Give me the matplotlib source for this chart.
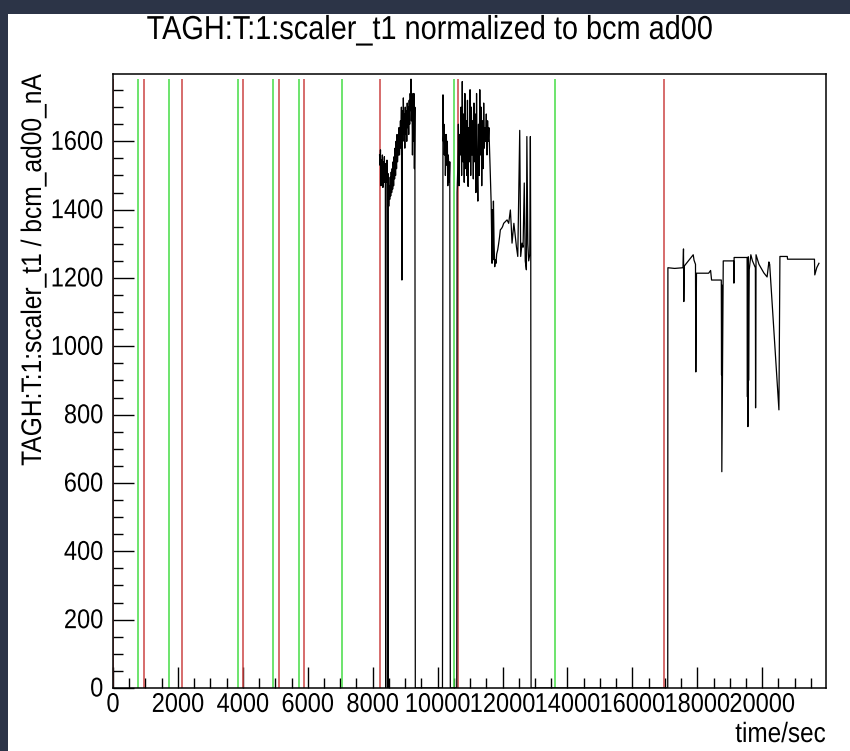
import matplotlib.pyplot as plt
from matplotlib.ticker import MultipleLocator
from matplotlib.patches import Rectangle
from matplotlib import patheffects
from matplotlib.transforms import Affine2D

plt.rcParams["font.family"] = ["Liberation Sans", "DejaVu Sans"]

# scaler rate normalised to beam current
time_s = [
    8212, 8225, 8240, 8255, 8270, 8285, 8300, 8315, 8330, 8345, 8360, 8375, 8390, 8400,
    8410, 8425, 8440, 8455, 8470, 8480, 8495, 8510, 8525, 8540, 8555, 8570, 8585, 8600,
    8615, 8630, 8645, 8660, 8675, 8690, 8705, 8720, 8735, 8750, 8765, 8780, 8795, 8810,
    8825, 8840, 8855, 8870, 8885, 8900, 8915, 8930, 8945, 8960, 8975, 8990, 9005, 9020,
    9035, 9050, 9065, 9080, 9095, 9110, 9125, 9140, 9155, 9170, 9180, 9195, 9210, 9225,
    9240, 9255, 9270, 9285, 9300, 9313,
    10150, 10166, 10180, 10195, 10210, 10225, 10240, 10255, 10270, 10285, 10300, 10315,
    10330, 10345, 10360, 10375, 10392, 10590,
    10600, 10620, 10640, 10660, 10680, 10700, 10720, 10740, 10760, 10780, 10800, 10820,
    10840, 10860, 10880, 10900, 10920, 10940, 10960, 10980, 11000, 11020, 11040, 11060,
    11080, 11100, 11120, 11140, 11160, 11180, 11200, 11220, 11240, 11260, 11280, 11300,
    11320, 11340, 11360, 11380, 11400, 11420, 11440, 11460, 11480, 11500, 11520, 11540,
    11560, 11580, 11600, 11625,
    11650, 11665, 11677, 11690, 11705, 11720, 11740, 11760, 11779, 11800, 11820, 11851,
    11880, 11910, 11933, 11970, 12000, 12036, 12090, 12140, 12190, 12242, 12270, 12293,
    12310, 12350, 12396, 12430, 12470, 12530, 12560, 12600, 12633, 12670, 12700, 12735,
    12750, 12780, 12806, 12840, 12858, 12870, 12880,
    17090, 17095, 17300, 17560, 17575, 17585, 17600, 17875, 17900, 17945, 17955, 17975,
    18350, 18410, 18440, 18740, 18748, 18752, 18756, 18800, 19120, 19128, 19135, 19535,
    19545, 19552, 19560, 19570, 19580, 19600, 19650, 19700, 19790, 19796, 19810, 19900,
    20050, 20150, 20206, 20230, 20515, 20546, 20773, 20780, 21610, 21620, 21680, 21748,
]
rate = [
    1560, 1530, 1575, 1470, 1545, 1500, 1560, 1465, 1540, 1490, 1555, 1480, 1535, 0,
    1520, 1480, 1545, 1500, 0, 1505, 1410, 1470, 1430, 1495, 1440, 1510, 1450, 1520,
    1460, 1540, 1470, 1555, 1490, 1580, 1500, 1600, 1520, 1620, 1540, 1580, 1560, 1640,
    1560, 1600, 1660, 1580, 1700, 1194, 1690, 1600, 1727, 1620, 1680, 1580, 1700, 1620,
    1690, 1600, 1712, 1640, 1700, 1620, 1720, 1650, 1740, 1690, 1782, 1660, 1740, 1560,
    1720, 1600, 1740, 1520, 1700, 0,
    0, 1736, 1600, 1650, 1560, 1620, 1500, 1580, 1620, 1530, 1600, 1470,
    1560, 1520, 1480, 1540, 0, 0,
    1450, 1516, 1650, 1470, 1620, 1560, 1700, 1500, 1775, 1540, 1680, 1480,
    1740, 1520, 1660, 1500, 1720, 1468, 1640, 1540, 1751, 1500, 1700, 1560,
    1660, 1490, 1712, 1540, 1680, 1450, 1740, 1520, 1425, 1650, 1500, 1751,
    1560, 1700, 1470, 1660, 1520, 1712, 1580, 1640, 1600, 1680, 1560, 1660,
    1600, 1640, 1580, 1500,
    1419, 1330, 1243, 1400, 1253, 1425, 1300, 1233, 1253, 1243, 1270, 1282,
    1300, 1321, 1341, 1345, 1350, 1360, 1365, 1370, 1360, 1399, 1350, 1302,
    1320, 1360, 1321, 1290, 1263, 1632, 1263, 1302, 1290, 1478, 1250, 1224,
    1614, 1300, 1250, 1270, 1614, 1260, 0,
    0, 1230, 1228, 1230, 1285, 1131, 1235, 1268, 1252, 1240, 925, 1214,
    1214, 1222, 1194, 1194, 916, 1180, 633, 1250, 1250, 1185, 1260, 1260,
    852, 1250, 765, 1262, 900, 1224, 1268, 1250, 1230, 820, 1268, 1240,
    1215, 1203, 1247, 1240, 814, 1263, 1263, 1255, 1255, 1209, 1230, 1243,
]

# run start (green) and run end (red) markers
run_start = [760, 1727, 3845, 4914, 5725, 7040, 10494, 13608]
run_end = [0, 966, 2117, 4020, 5119, 5880, 8212, 10617, 16960]
marker_top = 1783


class Stretch(patheffects.AbstractPathEffect):
    """draw glyphs taller than they are wide, like the ROOT screenshot"""

    def __init__(self, sy):
        super().__init__()
        self.sy = sy

    def draw_path(self, renderer, gc, tpath, affine, rgbFace=None):
        renderer.draw_path(gc, tpath, Affine2D().scale(1, self.sy) + affine, rgbFace)


tall = [Stretch(1.15)]

fig = plt.figure(figsize=(8.5, 7.51), dpi=100)
fig.patch.set_facecolor("#2c3447")
fig.patches.append(Rectangle((8 / 850, 0), 1, 1 - 14 / 751, transform=fig.transFigure,
                             facecolor="white", edgecolor="none", zorder=-10))

ax = fig.add_axes([113 / 850, 1 - 688 / 751, 712.5 / 850, 614 / 751])
ax.set_zorder(1)
ax.vlines(run_start, 0, marker_top, color="#45dc45", lw=1.1)
ax.vlines(run_end, 0, marker_top, color="#cc4444", lw=1.1)
ax.plot(time_s, rate, color="black", lw=0.9)

ax.set_xlim(0, 21950)
ax.set_ylim(0, 1797)
ax.xaxis.set_major_locator(MultipleLocator(2000))
ax.xaxis.set_minor_locator(MultipleLocator(500))
ax.yaxis.set_major_locator(MultipleLocator(200))
ax.yaxis.set_minor_locator(MultipleLocator(50))
ax.tick_params(which="both", direction="in", top=False, right=False, width=1,
               labelsize=17)
ax.tick_params(which="major", length=15)
ax.tick_params(which="minor", length=7.5)
ax.tick_params(axis="x", pad=5)
ax.tick_params(axis="y", pad=7)
for s in ax.spines.values():
    s.set_linewidth(1.1)

ax.set_xlabel("time/sec", fontsize=17.5, loc="right")
ax.xaxis.set_label_coords(1.0, -(736 - 688) / 614)
ax.xaxis.label.set_va("center")
ax.set_ylabel("TAGH:T:1:scaler_t1 / bcm_ad00_nA", fontsize=17.7, loc="top")
ax.yaxis.set_label_coords(-(113 - 34) / 712.5, 1.0)
ax.yaxis.label.set_va("center")

title = fig.text(430 / 850, 1 - 31 / 751, "TAGH:T:1:scaler_t1 normalized to bcm ad00",
                 ha="center", va="center", fontsize=20.8)

fig.canvas.draw()
for t in ax.get_xticklabels() + ax.get_yticklabels():
    t.set_path_effects(tall)
for t in (ax.xaxis.label, ax.yaxis.label, title):
    t.set_path_effects(tall)

fig.savefig("out.png", dpi=100, facecolor=fig.get_facecolor())
